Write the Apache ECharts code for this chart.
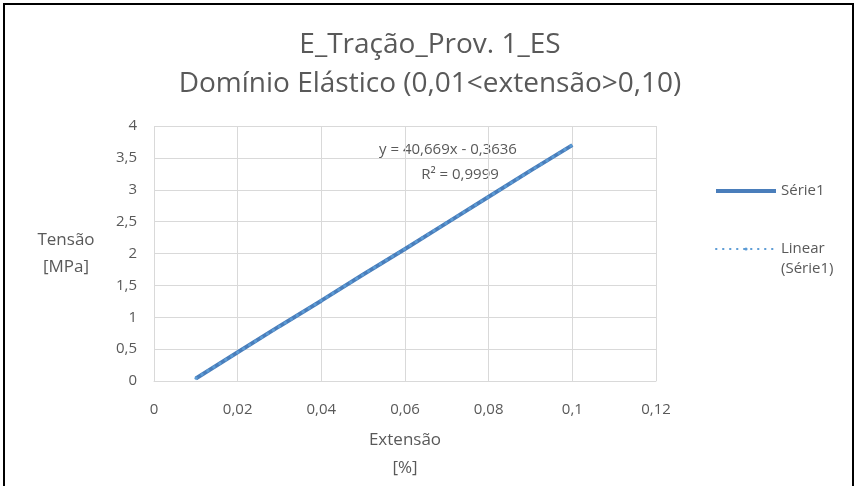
<!DOCTYPE html>
<html>
<head>
<meta charset="utf-8">
<script src="https://cdn.jsdelivr.net/npm/echarts@6/dist/echarts.min.js"></script>
<style>
  html, body { margin: 0; padding: 0; background: #fff; overflow: hidden; }
  #frame { position: absolute; left: 3px; top: 3px; width: 851px; height: 500px; border: 2px solid #000; box-sizing: border-box; }
  #chart { position: absolute; left: 0; top: 0; width: 860px; height: 486px; }
</style>
</head>
<body>
<div id="frame"></div>
<div id="chart"></div>
<script>
// values
const extensao = [0.01, 0.02, 0.03, 0.04, 0.05, 0.06, 0.07, 0.08, 0.09, 0.10]
const tensao = [0.04, 0.45, 0.86, 1.26, 1.67, 2.07, 2.48, 2.89, 3.30, 3.70]
const trendX = [0.01, 0.10]
const trendY = [0.043, 3.703]
const titleLines = ['E_Tração_Prov. 1_ES', 'Domínio Elástico (0,01<extensão>0,10)']
const equation = ['y = 40,669x - 0,3636', 'R² = 0,9999']

const FONT = '"Open Sans", "Noto Sans", sans-serif'
const GREY = '#595959'
const BLUE = '#4A7EBB'
const TREND = 'Linear (Série1)'

const fmt = v => String(v).replace('.', ',')

const chart = echarts.init(document.getElementById('chart'), null, { renderer: 'canvas' })
chart.setOption({
  animation: false,
  textStyle: { fontFamily: FONT, color: GREY },
  title: {
    text: titleLines.join('\n'),
    left: 'center',
    top: 21,
    textStyle: { fontFamily: FONT, fontSize: 28, fontWeight: 'normal', color: GREY, lineHeight: 39 }
  },
  grid: { left: 154, right: 204, top: 126, bottom: 105, containLabel: false, outerBoundsMode: 'none' },
  legend: {
    orient: 'vertical',
    left: 710,
    top: 176,
    itemGap: 18,
    itemWidth: 60,
    itemHeight: 4,
    textStyle: { fontFamily: FONT, fontSize: 15, color: GREY, lineHeight: 20 },
    // blank first line keeps "Linear" level with the dotted sample
    formatter: name => name === TREND ? ' \nLinear\n(Série1)' : name,
    data: [
      { name: 'Série1', icon: 'rect' },
      { name: TREND }
    ]
  },
  xAxis: {
    type: 'value',
    min: 0, max: 0.12, interval: 0.02,
    name: 'Extensão\n[%]',
    nameLocation: 'middle',
    nameGap: 45,
    nameTextStyle: { fontFamily: FONT, fontSize: 17, color: GREY, lineHeight: 28 },
    axisLine: { show: true, lineStyle: { color: '#D9D9D9' } },
    axisTick: { show: false },
    axisLabel: { fontFamily: FONT, fontSize: 15, color: GREY, margin: 21, formatter: fmt },
    splitLine: { show: true, lineStyle: { color: '#D9D9D9' } }
  },
  yAxis: {
    type: 'value',
    min: 0, max: 4, interval: 0.5,
    name: 'Tensão\n[MPa]',
    nameLocation: 'middle',
    nameRotate: 0,
    nameGap: 88,
    nameTextStyle: { fontFamily: FONT, fontSize: 17, color: GREY, lineHeight: 27, align: 'center' },
    axisLine: { show: false },
    axisTick: { show: false },
    axisLabel: { fontFamily: FONT, fontSize: 15, color: GREY, margin: 17, formatter: fmt },
    splitLine: { show: true, lineStyle: { color: '#D9D9D9' } }
  },
  series: [
    {
      name: 'Série1',
      type: 'line',
      data: extensao.map((x, i) => [x, tensao[i]]),
      symbol: 'none',
      color: BLUE,
      lineStyle: { width: 4, color: BLUE }
    },
    {
      name: TREND,
      type: 'line',
      data: trendX.map((x, i) => [x, trendY[i]]),
      symbol: 'none',
      color: '#5B9BD5',
      lineStyle: { width: 3, type: [0.5, 6.5], cap: 'round', color: '#5B9BD5' },
      z: 3
    }
  ],
  graphic: [
    {
      type: 'text', x: 448, y: 150,
      style: { text: equation[0], fontFamily: FONT, fontSize: 15, fill: GREY, align: 'center', verticalAlign: 'middle' }
    },
    {
      type: 'text', x: 460, y: 175,
      style: { text: equation[1], fontFamily: FONT, fontSize: 15, fill: GREY, align: 'center', verticalAlign: 'middle' }
    }
  ]
})
</script>
</body>
</html>
